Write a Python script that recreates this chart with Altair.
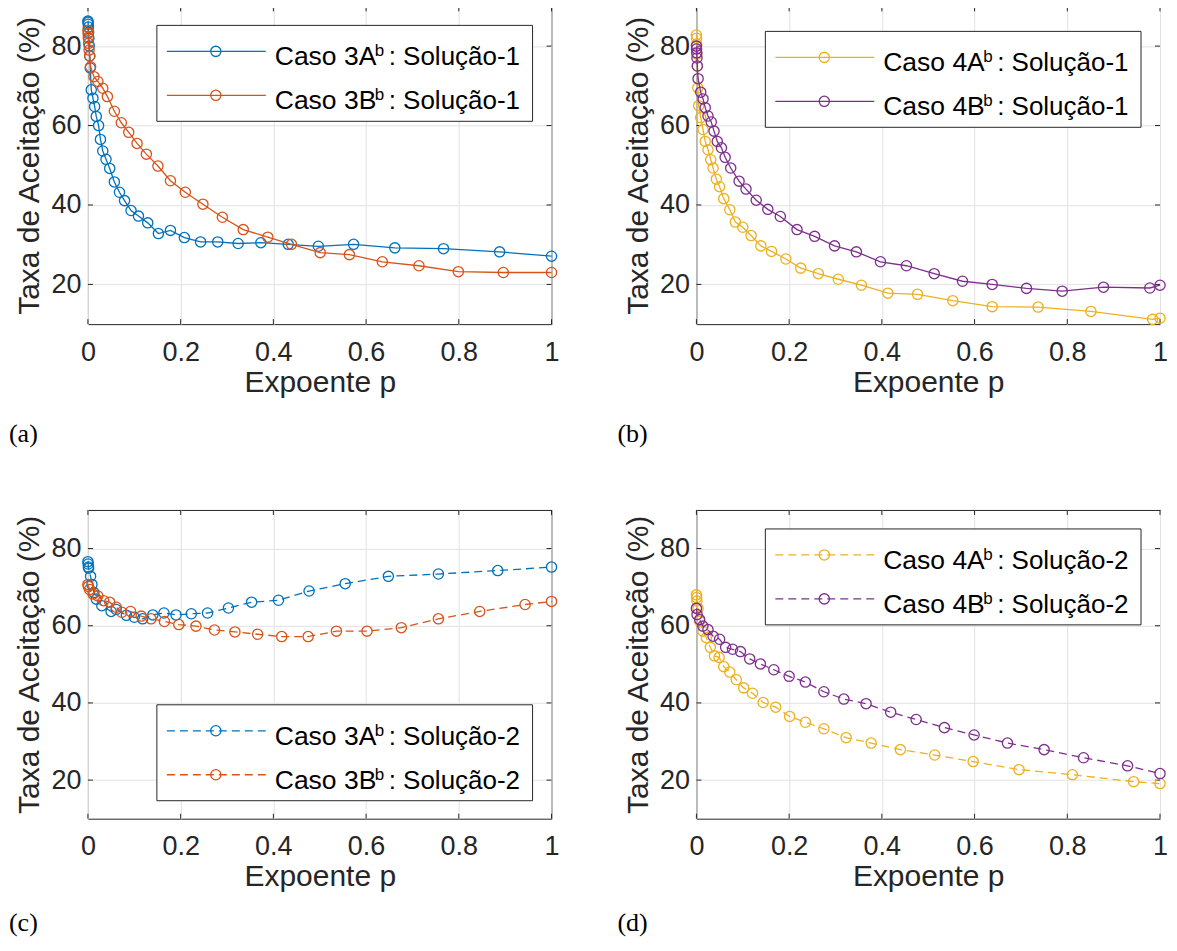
import altair as alt
import pandas as pd

# ---------------- data ----------------
# (a) Solução-1, casos 3A / 3B
p_3A_s1 = [0, 0.0003, 0.0006, 0.001, 0.0015, 0.002, 0.0028, 0.0038, 0.005, 0.0072, 0.0108, 0.0144,
           0.018, 0.023, 0.027, 0.032, 0.039, 0.047, 0.057, 0.068, 0.079, 0.093, 0.109, 0.129, 0.152,
           0.178, 0.208, 0.243, 0.28, 0.324, 0.373, 0.432, 0.497, 0.573, 0.662, 0.767, 0.888, 1.0]
t_3A_s1 = [86.3, 86, 85.5, 84.8, 83.5, 82, 80, 77.5, 74.5, 69, 66.9, 64.8,
           62.3, 60, 56.5, 53.6, 51.5, 49.2, 45.8, 43.2, 41.1, 38.6, 37.2, 35.5, 32.8,
           33.6, 31.8, 30.7, 30.7, 30.3, 30.5, 30.1, 29.6, 30.1, 29.2, 29, 28.2, 27.1]
p_3B_s1 = [0, 0.0003, 0.0008, 0.0015, 0.0025, 0.004, 0.0057, 0.013, 0.0215, 0.032, 0.042, 0.057,
           0.072, 0.088, 0.106, 0.126, 0.151, 0.178, 0.21, 0.248, 0.29, 0.335, 0.388, 0.439, 0.501,
           0.564, 0.635, 0.714, 0.799, 0.896, 1.0]
t_3B_s1 = [84, 83.2, 82.2, 80.7, 79, 77.5, 74.8, 72.3, 71.1, 69.4, 67.3, 63.6,
           60.7, 58.3, 55.5, 52.8, 49.8, 46.1, 43.2, 40.2, 36.9, 33.8, 31.9, 30.1, 28,
           27.5, 25.7, 24.7, 23.2, 23, 23]

# (b) Solução-1, casos 4A / 4B
p_4A_s1 = [0, 0.0003, 0.0007, 0.0012, 0.002, 0.003, 0.005, 0.0093, 0.0143, 0.019, 0.025, 0.031,
           0.036, 0.043, 0.05, 0.059, 0.072, 0.084, 0.1, 0.118, 0.139, 0.162, 0.193, 0.225, 0.263,
           0.306, 0.356, 0.413, 0.477, 0.553, 0.638, 0.737, 0.851, 0.984, 1.0]
t_4A_s1 = [82.8, 82, 80.5, 78, 75, 69.5, 65, 62, 59, 56, 53.9, 51.4,
           49.3, 46.5, 44.6, 41.6, 38.8, 35.7, 34.4, 32.3, 29.7, 28.3, 26.4, 24.1, 22.7,
           21.3, 19.8, 17.8, 17.5, 15.9, 14.4, 14.3, 13.2, 11.2, 11.5]
p_4B_s1 = [0, 0.0003, 0.0007, 0.0012, 0.002, 0.0036, 0.0093, 0.0143, 0.019, 0.025, 0.032, 0.038,
           0.045, 0.054, 0.062, 0.074, 0.092, 0.107, 0.129, 0.154, 0.181, 0.217, 0.255, 0.298,
           0.345, 0.397, 0.453, 0.513, 0.574, 0.638, 0.712, 0.789, 0.878, 0.978, 1.0]
t_4B_s1 = [80, 79.3, 78.3, 77, 75, 71.8, 68.4, 66.7, 64.5, 62.4, 60.9, 58.6,
           56, 54.4, 52, 49.3, 46, 44, 41.2, 38.9, 37.1, 33.8, 32.1, 29.7,
           28.2, 25.7, 24.7, 22.7, 20.8, 20, 19, 18.3, 19.3, 19.1, 19.8]

# (c) Solução-2, casos 3A / 3B
p_3A_s2 = [0, 0.0005, 0.001, 0.0015, 0.0057, 0.0086, 0.0129, 0.018, 0.03, 0.05, 0.061, 0.083,
           0.1, 0.118, 0.14, 0.164, 0.19, 0.223, 0.258, 0.303, 0.353, 0.411, 0.477, 0.555,
           0.648, 0.756, 0.884, 1.0]
t_3A_s2 = [76.6, 76, 75.2, 74.9, 72.8, 70.7, 68.6, 66.9, 65.2, 63.7, 64.2, 62.7,
           62.2, 61.8, 62.8, 63.3, 62.8, 63.1, 63.3, 64.6, 66.1, 66.6, 69, 70.9,
           72.8, 73.4, 74.3, 75.2]
p_3B_s2 = [0, 0.001, 0.0036, 0.011, 0.0215, 0.034, 0.047, 0.061, 0.073, 0.092, 0.115, 0.136,
           0.165, 0.196, 0.233, 0.273, 0.317, 0.366, 0.418, 0.475, 0.536, 0.602, 0.676, 0.756,
           0.845, 0.943, 1.0]
t_3B_s2 = [70.7, 70.2, 69.4, 68.2, 67.7, 66.5, 66.1, 64.8, 63.5, 63.7, 62.5, 61.8,
           61.1, 60.3, 59.9, 58.9, 58.4, 57.8, 57.2, 57.2, 58.6, 58.6, 59.5, 61.8,
           63.7, 65.5, 66.3]

# (d) Solução-2, casos 4A / 4B
p_4A_s2 = [0, 0.0005, 0.001, 0.0036, 0.007, 0.014, 0.0215, 0.03, 0.039, 0.049, 0.059, 0.072,
           0.086, 0.102, 0.121, 0.144, 0.171, 0.201, 0.235, 0.275, 0.323, 0.377, 0.44, 0.514,
           0.597, 0.696, 0.811, 0.943, 1.0]
t_4A_s2 = [68, 67.3, 66.4, 64.5, 61.2, 58.6, 56.9, 54.4, 52.2, 51.8, 49.4, 48,
           46, 43.9, 42.5, 40.1, 38.9, 36.5, 35, 33.3, 31, 29.6, 27.9, 26.5,
           24.8, 22.7, 21.4, 19.6, 19.1]
p_4B_s2 = [0, 0.0014, 0.007, 0.014, 0.025, 0.036, 0.05, 0.063, 0.078, 0.095, 0.115, 0.138,
           0.167, 0.2, 0.235, 0.275, 0.318, 0.366, 0.419, 0.474, 0.535, 0.599, 0.671, 0.75,
           0.835, 0.93, 1.0]
t_4B_s2 = [64.5, 62.9, 61.6, 59.9, 59, 57.3, 56.5, 54.4, 53.9, 53.3, 51.4, 50.1,
           48.6, 46.9, 45.4, 42.9, 41, 39.8, 37.6, 35.7, 33.6, 31.7, 29.6, 27.9,
           25.8, 23.7, 21.7]

X_TICKS = [0, 0.2, 0.4, 0.6, 0.8, 1.0]
Y_TICKS = [20, 40, 60, 80]
X_TITLE = "Expoente p"
Y_TITLE = "Taxa de Aceitação (%)"
PANEL_LABELS = ["(a)", "(b)", "(c)", "(d)"]

# ---------------- style ----------------
BLUE, ORANGE, YELLOW, PURPLE = "#0072BD", "#D95319", "#EDB120", "#7E2F8E"
FONT = "Liberation Sans"
TXT = "#262626"
GRID = "#e2e2e2"
W_L = 464
W_R = 464
H_TOP = 318
H_BOT = 309
LW = 1.3
MS = 105
DASH = [8, 5]

xscale = alt.Scale(domain=[0, 1], nice=False, zero=False)
yscale = alt.Scale(domain=[10, 90], nice=False, zero=False)
xaxis = alt.Axis(values=X_TICKS, format="~g", title=X_TITLE, grid=True, gridColor=GRID,
                 gridWidth=1, domain=False, ticks=False, labelPadding=15, titlePadding=2,
                 labelFontSize=27, titleFontSize=30, labelColor=TXT, titleColor=TXT,
                 labelFont=FONT, titleFont=FONT, titleFontWeight="normal", labelFlush=False,
                 labelOverlap=False)
yaxis = alt.Axis(values=Y_TICKS, title=Y_TITLE, grid=True, gridColor=GRID, gridWidth=1,
                 domain=False, ticks=False, labelPadding=7, titlePadding=6,
                 labelFontSize=27, titleFontSize=30, labelColor=TXT, titleColor=TXT,
                 labelFont=FONT, titleFont=FONT, titleFontWeight="normal", labelFlush=False,
                 labelOverlap=False)

ONE = pd.DataFrame({"k": [0]})


def series_layers(p, t, color, dashed):
    df = pd.DataFrame({"p": p, "taxa": t})
    base = alt.Chart(df).encode(
        x=alt.X("p:Q", scale=xscale, axis=xaxis),
        y=alt.Y("taxa:Q", scale=yscale, axis=yaxis),
    )
    kw = dict(color=color, strokeWidth=LW)
    if dashed:
        kw["strokeDash"] = DASH
    line = base.mark_line(**kw)
    pts = base.mark_point(shape="circle", filled=False, color=color, size=MS,
                          strokeWidth=LW, opacity=1)
    return [line, pts]


def tick_layers(W, H):
    xt = pd.DataFrame({"p": X_TICKS})
    yt = pd.DataFrame({"taxa": Y_TICKS})
    X = alt.X("p:Q", scale=xscale, axis=xaxis)
    Y = alt.Y("taxa:Q", scale=yscale, axis=yaxis)
    r = dict(color=TXT, strokeWidth=1)
    return [
        alt.Chart(xt).mark_rule(**r).encode(x=X, y=alt.value(H), y2=alt.value(H - 5)),
        alt.Chart(xt).mark_rule(**r).encode(x=X, y=alt.value(0), y2=alt.value(5)),
        alt.Chart(yt).mark_rule(**r).encode(y=Y, x=alt.value(0), x2=alt.value(5)),
        alt.Chart(yt).mark_rule(**r).encode(y=Y, x=alt.value(W), x2=alt.value(W - 5)),
    ]


def legend_layers(entries, W, top):
    bx1 = W - 19
    bx0 = bx1 - 376
    L = [alt.Chart(ONE).mark_rect(fill="white", stroke=TXT, strokeWidth=1).encode(
        x=alt.value(bx0), x2=alt.value(bx1), y=alt.value(top), y2=alt.value(top + 96))]
    for i, (main, rest, color, dashed) in enumerate(entries):
        ry = top + 26 + 44 * i
        kw = dict(color=color, strokeWidth=LW)
        if dashed:
            kw["strokeDash"] = DASH
        L.append(alt.Chart(ONE).mark_rule(**kw).encode(
            x=alt.value(bx0 + 10), x2=alt.value(bx0 + 109), y=alt.value(ry)))
        L.append(alt.Chart(ONE).mark_point(shape="circle", filled=False, color=color, size=MS,
                                           strokeWidth=LW, opacity=1).encode(
            x=alt.value(bx0 + 59), y=alt.value(ry)))
        L.append(alt.Chart(ONE).mark_text(text=main, align="left", baseline="alphabetic",
                                          font=FONT, fontSize=26.5, color="black").encode(
            x=alt.value(bx0 + 118), y=alt.value(ry + 14)))
        L.append(alt.Chart(ONE).mark_text(text="b", align="left", baseline="alphabetic",
                                          font=FONT, fontSize=17, color="black").encode(
            x=alt.value(bx0 + 218), y=alt.value(ry + 5)))
        L.append(alt.Chart(ONE).mark_text(text=rest, align="left", baseline="alphabetic",
                                          font=FONT, fontSize=26, color="black").encode(
            x=alt.value(bx0 + 232), y=alt.value(ry + 14)))
    return L


def panel(series, entries, legend_top, W, H, label, toff):
    layers = tick_layers(W, H)
    for p, t, c, d in series:
        layers += series_layers(p, t, c, d)
    layers += legend_layers(entries, W, legend_top)
    return alt.layer(*layers).properties(
        width=W, height=H,
        title=alt.TitleParams(label, orient="bottom", anchor="start", frame="bounds",
                              font="Liberation Serif", fontSize=26, fontWeight="normal",
                              color="black", offset=toff, dx=-6),
    )


pa = panel([(p_3A_s1, t_3A_s1, BLUE, False), (p_3B_s1, t_3B_s1, ORANGE, False)],
           [("Caso 3A", ": Solução-1", BLUE, False), ("Caso 3B", ": Solução-1", ORANGE, False)],
           19, W_L, H_TOP, PANEL_LABELS[0], 24)
pb = panel([(p_4A_s1, t_4A_s1, YELLOW, False), (p_4B_s1, t_4B_s1, PURPLE, False)],
           [("Caso 4A", ": Solução-1", YELLOW, False), ("Caso 4B", ": Solução-1", PURPLE, False)],
           25, W_R, H_TOP, PANEL_LABELS[1], 24)
pc = panel([(p_3A_s2, t_3A_s2, BLUE, True), (p_3B_s2, t_3B_s2, ORANGE, True)],
           [("Caso 3A", ": Solução-2", BLUE, True), ("Caso 3B", ": Solução-2", ORANGE, True)],
           H_BOT - 18 - 96, W_L, H_BOT, PANEL_LABELS[2], 18)
pd_ = panel([(p_4A_s2, t_4A_s2, YELLOW, True), (p_4B_s2, t_4B_s2, PURPLE, True)],
            [("Caso 4A", ": Solução-2", YELLOW, True), ("Caso 4B", ": Solução-2", PURPLE, True)],
            19, W_R, H_BOT, PANEL_LABELS[3], 18)

chart = alt.vconcat(
    alt.hconcat(pa, pb, spacing=56),
    alt.hconcat(pc, pd_, spacing=56),
    spacing=61,
).properties(
    padding={"left": 0, "top": -3, "right": 0, "bottom": 0}
).configure_view(stroke=TXT, strokeWidth=1)

chart.save("out.html", embed_options={"renderer": "svg", "actions": False})
